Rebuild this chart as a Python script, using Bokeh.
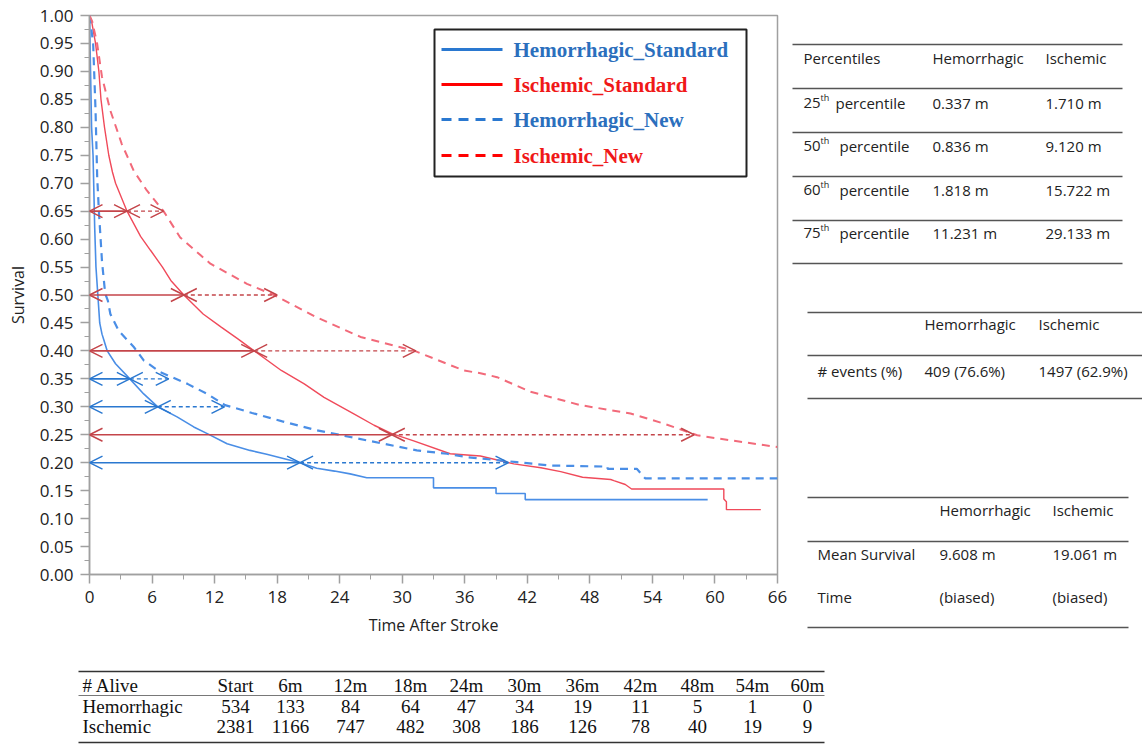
from bokeh.plotting import figure
from bokeh.models import Range1d, FixedTicker, NumeralTickFormatter, Arrow, OpenHead
from bokeh.layouts import row, column
from bokeh.embed import file_html
from bokeh.resources import INLINE
from bokeh.core.properties import value

# ---------------- data ----------------
hem_std_t = [0, 0.1, 0.2, 0.34, 0.5, 0.62, 0.8, 0.98, 1.2, 1.37, 1.7, 2.5, 3.87, 5.2, 6.55, 8.4, 10.0,
             11.3, 13.2, 15.4, 17.0, 18.5, 20.2, 21.8, 23.5, 25.0, 26.6, 33.0, 33.0, 39.0, 39.0, 41.8, 41.8, 59.3]
hem_std_s = [1.0, 0.90, 0.80, 0.75, 0.62, 0.55, 0.50, 0.45, 0.43, 0.42, 0.40, 0.377, 0.35, 0.323, 0.30, 0.282,
             0.264, 0.252, 0.234, 0.222, 0.215, 0.208, 0.20, 0.19, 0.185, 0.18, 0.173, 0.173, 0.155, 0.155,
             0.145, 0.145, 0.134, 0.134]

isc_std_t = [0, 0.2, 0.58, 0.9, 1.1, 1.44, 1.85, 2.2, 2.5, 3.6, 4.9, 5.85, 7.0, 7.8, 9.05, 10.9, 12.6, 14.2,
             15.8, 18.4, 20.6, 22.5, 25.4, 27.3, 29.0, 31.1, 34.6, 37.5, 40.7, 43.3, 45.2, 47.3, 50.0, 50.3,
             51.4, 52.0, 60.85, 60.85, 61.1, 61.1, 64.4]
isc_std_s = [1.0, 0.99, 0.95, 0.90, 0.85, 0.80, 0.75, 0.72, 0.70, 0.65, 0.605, 0.58, 0.55, 0.526, 0.50, 0.466,
             0.443, 0.422, 0.40, 0.365, 0.341, 0.317, 0.287, 0.267, 0.252, 0.239, 0.216, 0.212, 0.198, 0.191,
             0.184, 0.174, 0.170, 0.168, 0.161, 0.153, 0.153, 0.135, 0.13, 0.116, 0.116]

hem_new_t = [0, 0.15, 0.35, 0.58, 0.74, 0.9, 1.2, 1.5, 1.76, 2.0, 2.8, 4.25, 5.2, 6.8, 9.4, 11.3, 13.0, 15.6,
             18.5, 21.8, 25.0, 28.2, 31.4, 34.3, 36.2, 41.0, 44.2, 49.7, 49.7, 52.5, 53.3, 66.0]
hem_new_s = [1.0, 0.98, 0.95, 0.83, 0.71, 0.65, 0.56, 0.503, 0.49, 0.466, 0.436, 0.407, 0.383, 0.362, 0.341,
             0.323, 0.303, 0.289, 0.274, 0.258, 0.246, 0.234, 0.222, 0.216, 0.21, 0.201, 0.195, 0.193, 0.189,
             0.189, 0.172, 0.172]

isc_new_t = [0, 0.25, 0.73, 1.2, 2.0, 3.1, 4.25, 5.5, 7.1, 8.7, 11.6, 15.1, 17.7, 21.8, 26.0, 31.2, 35.9, 37.5,
             39.1, 42.3, 47.1, 51.9, 55.1, 58.3, 61.5, 66.0]
isc_new_s = [1.0, 0.99, 0.95, 0.89, 0.83, 0.77, 0.722, 0.687, 0.65, 0.603, 0.556, 0.52, 0.50, 0.46, 0.425, 0.40,
             0.365, 0.36, 0.353, 0.327, 0.303, 0.288, 0.27, 0.249, 0.24, 0.228]

# percentile arrows: survival level, time on standard curve, time on new curve
red_levels = [0.65, 0.50, 0.40, 0.25]
red_std_x = [3.6, 9.05, 15.8, 29.0]
red_new_x = [7.1, 18.0, 31.3, 58.0]
blue_levels = [0.35, 0.30, 0.20]
blue_std_x = [3.87, 6.55, 20.2]
blue_new_x = [7.6, 12.95, 40.2]

x_ticks = [0, 6, 12, 18, 24, 30, 36, 42, 48, 54, 60, 66]
x_minor = [3, 9, 15, 21, 27, 33, 39, 45, 51, 57, 63]
y_ticks = [round(0.05 * i, 2) for i in range(21)]
y_minor = [round(0.025 + 0.05 * i, 3) for i in range(20)]

legend_labels = ["Hemorrhagic_Standard", "Ischemic_Standard", "Hemorrhagic_New", "Ischemic_New"]

pct_header = ["Percentiles", "Hemorrhagic", "Ischemic"]
pct_ordinal = ["25", "50", "60", "75"]
pct_hem = ["0.337 m", "0.836 m", "1.818 m", "11.231 m"]
pct_isc = ["1.710 m", "9.120 m", "15.722 m", "29.133 m"]

events_header = ["Hemorrhagic", "Ischemic"]
events_row = ["# events (%)", "409 (76.6%)", "1497 (62.9%)"]

mean_header = ["Hemorrhagic", "Ischemic"]
mean_row1 = ["Mean Survival", "9.608 m", "19.061 m"]
mean_row2 = ["Time", "(biased)", "(biased)"]

alive_header = ["# Alive", "Start", "6m", "12m", "18m", "24m", "30m", "36m", "42m", "48m", "54m", "60m"]
alive_hem = ["Hemorrhagic", "534", "133", "84", "64", "47", "34", "19", "11", "5", "1", "0"]
alive_isc = ["Ischemic", "2381", "1166", "747", "482", "308", "186", "126", "78", "40", "19", "9"]

# ---------------- styles ----------------
BLUE = "#4a8ee6"
RED = "#f04a5a"
RED_NEW = "#f26a7a"
BLUE_ARROW = "#2a78d0"
RED_ARROW = "#c4454a"
LEG_BLUE = "#2b6fbd"
LEG_RED = "#f01818"
AX = "#a0a0a0"
TXT = "#222222"

# ---------------- main chart ----------------
p = figure(width=790, height=640, x_range=Range1d(0, 66), y_range=Range1d(0, 1),
           output_backend="svg", toolbar_location=None,
           min_border_left=89, min_border_right=13, min_border_top=15, min_border_bottom=66)
p.frame_align = False
p.xgrid.visible = False
p.ygrid.visible = False
p.outline_line_color = AX
p.outline_line_width = 1.5

p.xaxis.ticker = FixedTicker(ticks=x_ticks, minor_ticks=x_minor)
p.yaxis.ticker = FixedTicker(ticks=y_ticks, minor_ticks=y_minor)
p.yaxis.formatter = NumeralTickFormatter(format="0.00")
for ax in (p.xaxis[0], p.yaxis[0]):
    ax.axis_line_color = AX
    ax.axis_line_width = 1.5
    ax.major_tick_line_color = AX
    ax.minor_tick_line_color = AX
    ax.major_tick_line_width = 1.5
    ax.major_tick_out = 9
    ax.major_tick_in = 0
    ax.minor_tick_out = 5
    ax.minor_tick_in = 0
    ax.major_label_text_font = "Open Sans"
    ax.major_label_text_font_size = "17px"
    ax.major_label_text_color = TXT
    ax.major_label_standoff = 7
    ax.axis_label_text_font = "Open Sans"
    ax.axis_label_text_font_size = "16px"
    ax.axis_label_text_font_style = "normal"
    ax.axis_label_text_color = TXT
    ax.axis_label_standoff = 8
p.xaxis.axis_label = "Time After Stroke"
p.yaxis.axis_label = "Survival"

p.line(hem_std_t, hem_std_s, line_color=BLUE, line_width=1.6)
p.line(isc_std_t, isc_std_s, line_color=RED, line_width=1.4)
p.line(hem_new_t, hem_new_s, line_color=BLUE, line_width=2.2, line_dash="8 6")
p.line(isc_new_t, isc_new_s, line_color=RED_NEW, line_width=2.0, line_dash="8 6")


def add_arrows(levels, std_x, new_x, color):
    for lvl, xs, xn in zip(levels, std_x, new_x):
        p.add_layout(Arrow(start=OpenHead(size=13, line_color=color, line_width=1.5),
                           end=OpenHead(size=13, line_color=color, line_width=1.5),
                           x_start=0, y_start=lvl, x_end=xs, y_end=lvl,
                           line_color=color, line_width=1.6))
        p.add_layout(Arrow(start=OpenHead(size=13, line_color=color, line_width=1.5),
                           end=OpenHead(size=13, line_color=color, line_width=1.5),
                           x_start=xs, y_start=lvl, x_end=xn, y_end=lvl,
                           line_color=color, line_width=1.4, line_dash="4 3"))


add_arrows(red_levels, red_std_x, red_new_x, RED_ARROW)
add_arrows(blue_levels, blue_std_x, blue_new_x, BLUE_ARROW)


# legend box drawn in page-pixel layout, converted to data space
def X(px):
    return (px - 89) * 66 / 688


def Y(py):
    return (574 - py) / 559


p.quad(left=X(434), right=X(746), top=Y(29), bottom=Y(176), fill_color="white",
       line_color="#222222", line_width=2)
leg_rows = [49, 84, 119, 155]
leg_line_colors = [BLUE_ARROW, "#ff0000", BLUE_ARROW, "#ff0000"]
leg_dash = ["solid", "solid", "10 7", "10 7"]
leg_text_colors = [LEG_BLUE, LEG_RED, LEG_BLUE, LEG_RED]
for py, c, d in zip(leg_rows, leg_line_colors, leg_dash):
    p.line([X(441), X(502)], [Y(py), Y(py)], line_color=c, line_width=3, line_dash=d)
p.text(x=[X(513)] * 4, y=[Y(v) for v in leg_rows], text=legend_labels, text_color=leg_text_colors,
       text_font=value("Liberation Serif"), text_font_style="bold", text_font_size="21px",
       text_baseline="middle", text_align="left")

# ---------------- right-hand tables ----------------
r = figure(width=352, height=640, x_range=Range1d(790, 1142), y_range=Range1d(640, 0),
           output_backend="svg", toolbar_location=None, min_border=0,
           x_axis_location=None, y_axis_location=None)
r.frame_align = False
r.grid.visible = False
r.outline_line_color = None

LINE = "#555555"
FONT = value("Open Sans")
FS = "15px"

# table 1
t1_lines = [44, 88, 132, 176, 220, 263]
r.segment(x0=[792] * 6, y0=t1_lines, x1=[1122] * 6, y1=t1_lines, line_color=LINE, line_width=1.5)
r.text(x=[803, 932, 1045], y=[57] * 3, text=pct_header, text_font=FONT, text_font_size=FS,
       text_color=TXT, text_baseline="middle")
t1_rows = [102, 145, 189, 232]
r.text(x=[803] * 4, y=t1_rows, text=pct_ordinal, text_font=FONT, text_font_size=FS,
       text_color=TXT, text_baseline="middle")
r.text(x=[820] * 4, y=[v - 5 for v in t1_rows], text=["th"] * 4, text_font=FONT, text_font_size="9px",
       text_color=TXT, text_baseline="middle")
r.text(x=[835, 839, 839, 839], y=t1_rows, text=["percentile"] * 4, text_font=FONT, text_font_size=FS,
       text_color=TXT, text_baseline="middle")
r.text(x=[932] * 4, y=t1_rows, text=pct_hem, text_font=FONT, text_font_size=FS,
       text_color=TXT, text_baseline="middle")
r.text(x=[1045] * 4, y=t1_rows, text=pct_isc, text_font=FONT, text_font_size=FS,
       text_color=TXT, text_baseline="middle")

# table 2
t2_lines = [312, 355, 398]
r.segment(x0=[807] * 3, y0=t2_lines, x1=[1142] * 3, y1=t2_lines, line_color=LINE, line_width=1.5)
r.text(x=[924, 1038], y=[323] * 2, text=events_header, text_font=FONT, text_font_size=FS,
       text_color=TXT, text_baseline="middle")
r.text(x=[817, 924, 1038], y=[370] * 3, text=events_row, text_font=FONT, text_font_size=FS,
       text_color=TXT, text_baseline="middle")

# table 3
t3_lines = [497, 541, 627]
r.segment(x0=[807] * 3, y0=t3_lines, x1=[1128] * 3, y1=t3_lines, line_color=LINE, line_width=1.5)
r.text(x=[939, 1052], y=[509] * 2, text=mean_header, text_font=FONT, text_font_size=FS,
       text_color=TXT, text_baseline="middle")
r.text(x=[817, 939, 1052], y=[553] * 3, text=mean_row1, text_font=FONT, text_font_size=FS,
       text_color=TXT, text_baseline="middle")
r.text(x=[817, 939, 1052], y=[596] * 3, text=mean_row2, text_font=FONT, text_font_size=FS,
       text_color=TXT, text_baseline="middle")

# ---------------- bottom table ----------------
b = figure(width=1142, height=105, x_range=Range1d(0, 1142), y_range=Range1d(745, 640),
           output_backend="svg", toolbar_location=None, min_border=0,
           x_axis_location=None, y_axis_location=None)
b.frame_align = False
b.grid.visible = False
b.outline_line_color = None

b.segment(x0=[78, 78], y0=[671, 742], x1=[824, 824], y1=[671, 742], line_color="#333333", line_width=1.5)
b.segment(x0=[78], y0=[695], x1=[824], y1=[695], line_color="#555555", line_width=0.8)

col_centers = [235, 290, 350, 410, 466, 524, 582, 640, 697, 752, 807]
row_y = [685, 706, 726]
SER = value("Liberation Serif")
for yy, vals in zip(row_y, [alive_header, alive_hem, alive_isc]):
    b.text(x=[82], y=[yy], text=[vals[0]], text_font=SER, text_font_size="19px", text_color="#111111",
           text_baseline="middle", text_align="left")
    b.text(x=col_centers, y=[yy] * len(col_centers), text=vals[1:], text_font=SER, text_font_size="19px",
           text_color="#111111", text_baseline="middle", text_align="center")

layout = column(row(p, r), b)
open("out.html", "w").write(file_html(layout, INLINE))
